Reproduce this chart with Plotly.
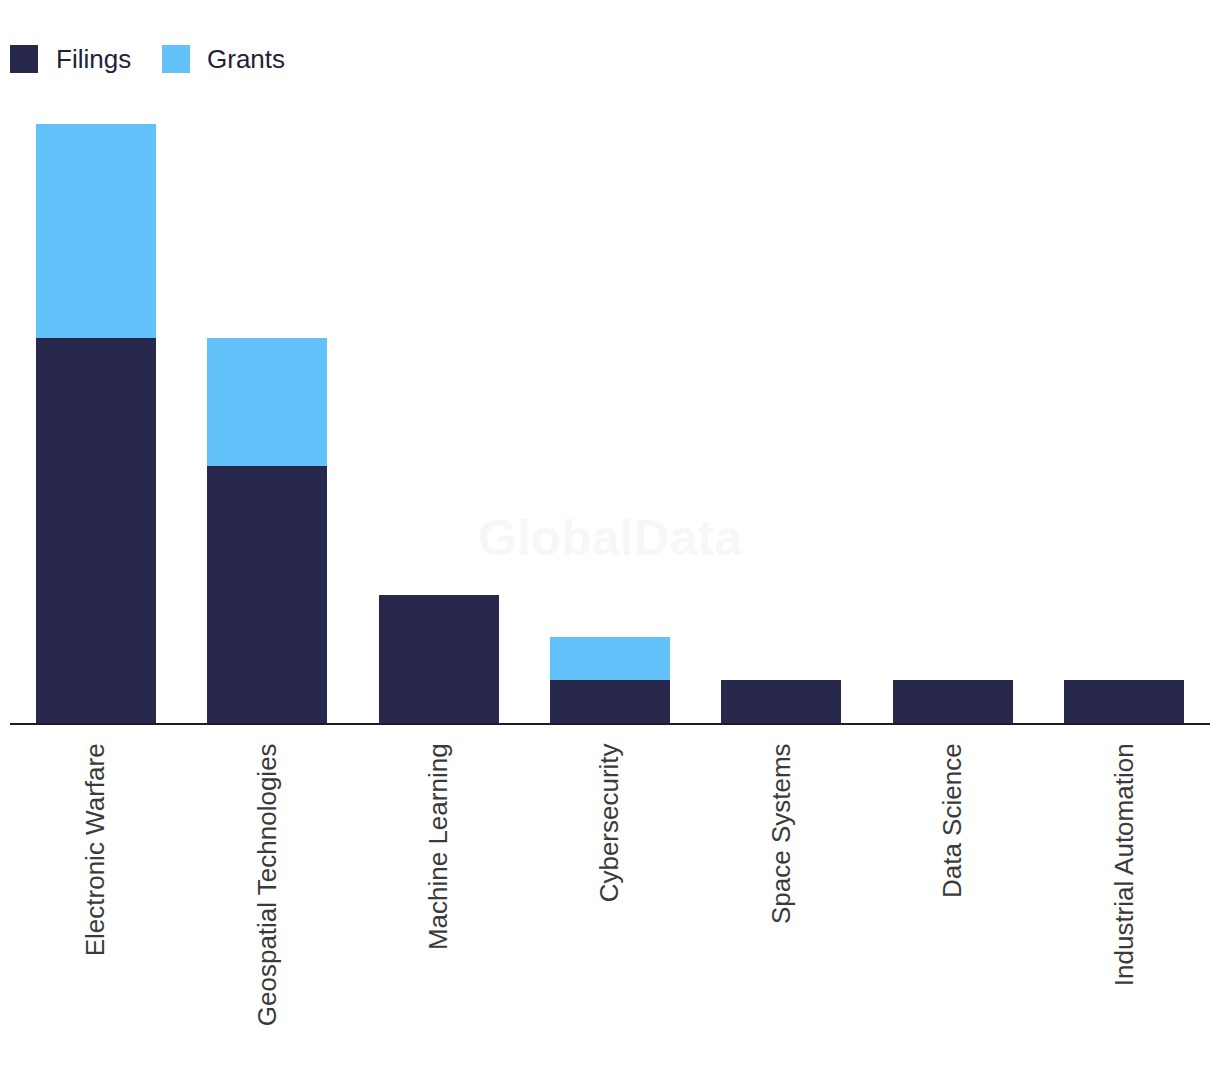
import plotly.graph_objects as go

categories = ["Electronic Warfare", "Geospatial Technologies", "Machine Learning",
              "Cybersecurity", "Space Systems", "Data Science", "Industrial Automation"]
filings = [9, 6, 3, 1, 1, 1, 1]
grants = [5, 3, 0, 1, 0, 0, 0]

DARK = "#27284b"
LIGHT = "#61c1f8"

fig = go.Figure()
fig.add_trace(go.Bar(x=categories, y=filings, name="Filings", marker=dict(color=DARK, line=dict(width=0))))
fig.add_trace(go.Bar(x=categories, y=grants, name="Grants", marker=dict(color=LIGHT, line=dict(width=0))))

OFF = 8  # page body margin
W, H = 1212, 1064
ml, mr, mt, mb = 2, 10, 116, 349
pw, ph = W - ml - mr, H - mt - mb

def px(x):
    return (x - OFF - ml) / pw

def py(y):
    return (H - mb - (y - OFF)) / ph

shapes = []
annotations = []
legend_items = [("Filings", DARK, 10, 55), ("Grants", LIGHT, 162, 206)]
for name, col, sx, tx in legend_items:
    shapes.append(dict(type="rect", xref="paper", yref="paper",
                       x0=px(sx), x1=px(sx + 28), y0=py(73), y1=py(45),
                       fillcolor=col, line=dict(width=0)))
    annotations.append(dict(text=name, xref="paper", yref="paper", x=px(tx - 1), y=py(59),
                            xanchor="left", yanchor="middle", showarrow=False,
                            font=dict(family="Liberation Sans, Arial", size=26, color="#222236")))

annotations.append(dict(text="<b>GlobalData</b>", xref="paper", yref="paper", x=px(610), y=py(538),
                        xanchor="center", yanchor="middle", showarrow=False,
                        font=dict(family="Liberation Sans, Arial", size=50, color="#f7f7f7")))

fig.update_layout(
    barmode="stack",
    bargap=0.3,
    width=W, height=H,
    margin=dict(l=ml, r=mr, t=mt, b=mb, pad=0),
    paper_bgcolor="white",
    plot_bgcolor="white",
    showlegend=False,
    shapes=shapes,
    annotations=annotations,
    xaxis=dict(showline=True, linecolor="#1c1c2c", linewidth=2, tickangle=-90,
               ticks="", showgrid=False, ticklabelstandoff=8,
               tickfont=dict(family="Liberation Sans, Arial", size=26, color="#3a3a3a")),
    yaxis=dict(range=[0, 14], visible=False, showgrid=False),
)

fig.write_html("out.html")
